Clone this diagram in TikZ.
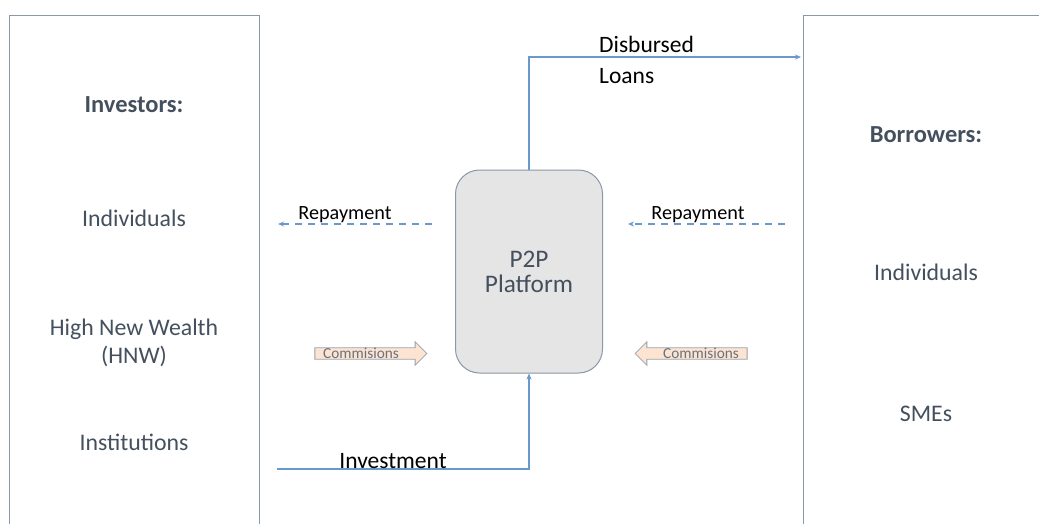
\documentclass[tikz,border=0pt]{standalone}
\usepackage{fontspec}
\setmainfont{Carlito}
\usetikzlibrary{arrows.meta,shapes.arrows,calc}
\definecolor{boxline}{HTML}{8A98A8}
\definecolor{flow}{HTML}{6A9ACB}
\definecolor{txt}{HTML}{44505E}
\definecolor{platfill}{HTML}{E6E5E5}
\definecolor{comfill}{HTML}{FCE3D2}
\definecolor{comline}{HTML}{9AA2AC}
\tikzset{
  party/.style={draw=boxline, line width=1pt, anchor=north west, inner sep=0pt},
  grouptxt/.style={text=txt, font=\fontsize{23.8}{28}\selectfont, align=center},
  headtxt/.style={text=txt, font=\fontsize{24.5}{28}\selectfont\bfseries},
  flowline/.style={draw=flow, line width=1.4pt, -{Stealth[length=6pt,width=5pt]}},
  dashflow/.style={flowline, dash pattern=on 7pt off 6pt},
  flowtxt/.style={text=black, font=\fontsize{20.2}{31}\selectfont},
  bigflowtxt/.style={text=black, font=\fontsize{23.5}{31}\selectfont},
  comarrow/.style={single arrow, draw=comline, fill=comfill, line width=0.8pt,
    minimum height=112pt, minimum width=17pt, single arrow head extend=6pt,
    inner sep=0pt, text=txt!80, font=\fontsize{15.3}{16}\selectfont},
}
\begin{document}
\begin{tikzpicture}[x=1pt,y=-1pt]
\useasboundingbox (0,0) rectangle (1039,523);
\clip (0,0) rectangle (1039,523);
\fill[white] (0,0) rectangle (1039,523);
% party boxes
\node[party, minimum width=250pt, minimum height=540pt] (inv) at (9,15) {};
\node[party, minimum width=260pt, minimum height=540pt] (bor) at (803,15) {};
% investor texts
\node[headtxt] (invh) at (134,105) {Investors:};
\node[grouptxt] (inv1) at (134,218) {Individuals};
\node[grouptxt] (inv2) at (134,343) {High New Wealth\\(HNW)};
\node[grouptxt] (inv3) at (134,442) {Institutions};
% borrower texts
\node[headtxt] (borh) at (926,135) {Borrowers:};
\node[grouptxt] (bor1) at (926,272) {Individuals};
\node[grouptxt] (bor2) at (926,414) {SMEs};
% platform
\node[draw=boxline, fill=platfill, line width=1pt, rounded corners=24pt,
  minimum width=147pt, minimum height=203pt, grouptxt, font=\fontsize{25.3}{25}\selectfont]
  (p2p) at (529,271.5) {P2P\\Platform};
% disbursed loans
\coordinate (dlend) at (801,57);
\draw[flowline] (p2p.north) |- (dlend);
\node[bigflowtxt, anchor=base west, align=left, inner sep=0pt] (dltxt) at (599,83) {Disbursed\\Loans};
% investment
\coordinate (invstart) at (277,469);
\draw[flowline] (invstart) -| (p2p.south);
\node[bigflowtxt, anchor=base, inner sep=0pt] (invtxt) at (393,468) {Investment};
% repayments
\coordinate (rp1s) at (432,224);
\coordinate (rp1e) at (278,224);
\draw[dashflow] (rp1s) -- (rp1e);
\node[flowtxt, anchor=base, inner sep=0pt] (rp1t) at (345,219) {Repayment};
\coordinate (rp2s) at (785,224);
\coordinate (rp2e) at (628,224);
\draw[dashflow] (rp2s) -- (rp2e);
\node[flowtxt, anchor=base, inner sep=0pt] (rp2t) at (698,219) {Repayment};
% commissions
\node[comarrow] (com1) at (368,353.5) {\hspace*{-14pt}Commisions};
\node[comarrow, shape border rotate=180] (com2) at (694,353.5) {\hspace*{14pt}Commisions};
\end{tikzpicture}
\end{document}
